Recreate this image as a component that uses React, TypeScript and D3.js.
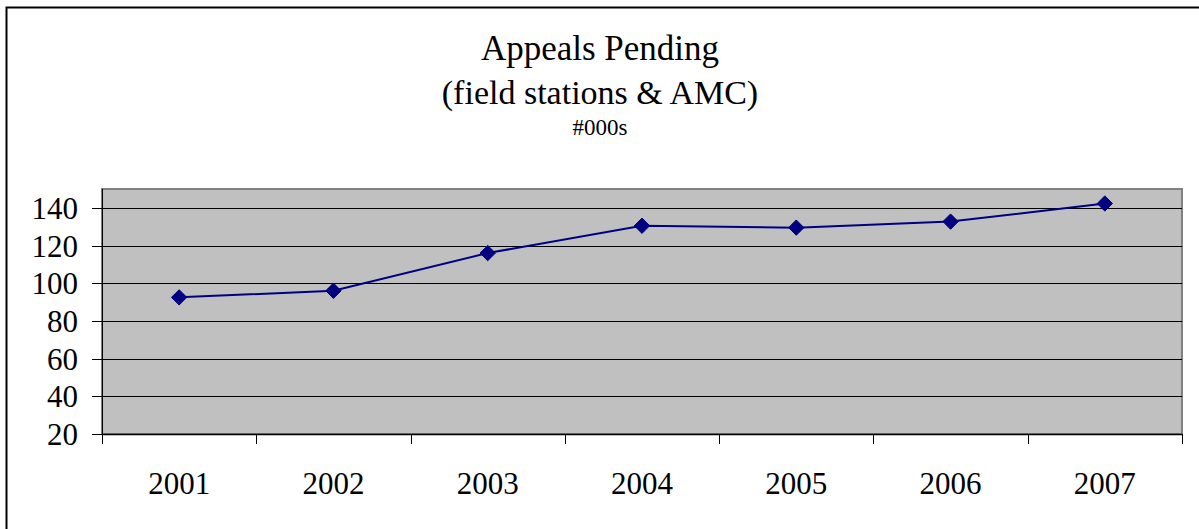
import React from "react";
import * as d3 from "d3";

const years = ["2001", "2002", "2003", "2004", "2005", "2006", "2007"];
const appealsPending = [92.5, 96, 116, 130.5, 129.5, 132.7, 142.3];
const yTicks = [20, 40, 60, 80, 100, 120, 140];
const titleLines = ["Appeals Pending", "(field stations & AMC)"];
const subtitle = "#000s";

const W = 1199;
const H = 529;
const plot = { left: 102, right: 1182, top: 189, bottom: 434 };
const FONT = "'Liberation Serif', 'Times New Roman', serif";

export default function App() {
  const x = d3.scaleBand<string>().domain(years).range([plot.left, plot.right]).padding(0);
  const y = d3.scaleLinear().domain([20, 150]).range([plot.bottom, plot.top]);
  const cx = (d: string) => (x(d) as number) + x.bandwidth() / 2;
  const line = d3
    .line<number>()
    .x((_, i) => cx(years[i]))
    .y((v) => y(v));
  const diamond = d3.symbol().type(d3.symbolDiamond2).size(150)();
  const boundaries = [...years.map((d) => x(d) as number), plot.right];

  return (
    <svg
      width={W}
      height={H}
      style={{ position: "absolute", left: 0, top: 0, background: "#fff" }}
      fontFamily={FONT}
    >
      <rect x={6.5} y={7.5} width={1210} height={540} fill="#fff" stroke="#000" strokeWidth={2} />
      <text x={600} y={60} textAnchor="middle" fontSize={35} fill="#000">
        {titleLines[0]}
      </text>
      <text x={600} y={104} textAnchor="middle" fontSize={34} fill="#000">
        {titleLines[1]}
      </text>
      <text x={600} y={135} textAnchor="middle" fontSize={23} fill="#000">
        {subtitle}
      </text>

      <rect
        x={plot.left}
        y={plot.top}
        width={plot.right - plot.left}
        height={plot.bottom - plot.top}
        fill="#c0c0c0"
        stroke="#808080"
        strokeWidth={2}
      />
      {yTicks
        .filter((t) => t !== 20)
        .map((t) => (
          <line
            key={"g" + t}
            x1={plot.left}
            x2={plot.right}
            y1={Math.round(y(t)) + 0.5}
            y2={Math.round(y(t)) + 0.5}
            stroke="#000"
            strokeWidth={1}
          />
        ))}
      <line x1={plot.left + 0.5} x2={plot.left + 0.5} y1={plot.top} y2={plot.bottom} stroke="#000" strokeWidth={1} />
      {yTicks.map((t) => (
        <g key={"yt" + t}>
          <line
            x1={plot.left - 10}
            x2={plot.left}
            y1={Math.round(y(t)) + 0.5}
            y2={Math.round(y(t)) + 0.5}
            stroke="#000"
          />
          <text x={78} y={y(t) + 11} textAnchor="end" fontSize={31} fill="#000">
            {t}
          </text>
        </g>
      ))}
      <line x1={plot.left} x2={plot.right} y1={plot.bottom + 0.5} y2={plot.bottom + 0.5} stroke="#000" strokeWidth={1.5} />
      {boundaries.map((b, i) => (
        <line
          key={"xt" + i}
          x1={Math.round(b) + 0.5}
          x2={Math.round(b) + 0.5}
          y1={plot.bottom}
          y2={plot.bottom + 10}
          stroke="#000"
        />
      ))}
      {years.map((d) => (
        <text key={"xl" + d} x={cx(d)} y={494} textAnchor="middle" fontSize={31} fill="#000">
          {d}
        </text>
      ))}

      <path d={line(appealsPending) || ""} fill="none" stroke="#000080" strokeWidth={2} />
      {appealsPending.map((v, i) => (
        <path
          key={"m" + i}
          d={diamond || ""}
          transform={`translate(${cx(years[i])},${y(v)})`}
          fill="#000080"
          stroke="#000080"
          strokeWidth={1}
        />
      ))}
    </svg>
  );
}
